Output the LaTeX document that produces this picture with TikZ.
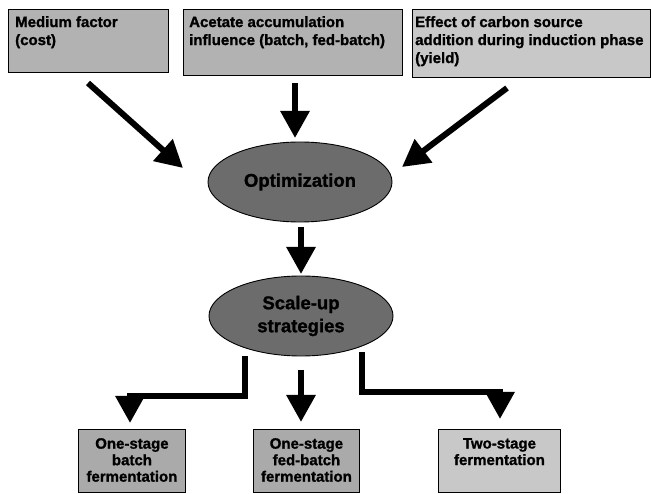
\documentclass[tikz,border=0pt]{standalone}
\usepackage{fontspec}
\setmainfont{Liberation Sans}[BoldFeatures={FakeBold=1.2}]
\usetikzlibrary{arrows.meta,shapes.geometric}
\definecolor{topgray}{HTML}{B2B2B2}
\definecolor{ellgray}{HTML}{6C6C6C}
\definecolor{botgray}{HTML}{AAAAAA}
\definecolor{lightgray}{HTML}{C8C8C8}
\begin{document}
\begin{tikzpicture}[x=1pt,y=-1pt,
  box/.style={draw=black, line width=0.9pt, inner sep=0pt, anchor=north west},
  toptext/.style={font=\bfseries\fontsize{15}{18}\selectfont, align=left, anchor=north west, inner sep=0pt},
  bottext/.style={font=\bfseries\fontsize{15}{16.5}\selectfont, align=center, anchor=north, inner sep=0pt},
  ell/.style={ellipse, draw=black, line width=0.9pt, fill=ellgray, minimum width=184pt, minimum height=80pt, inner sep=0pt, font=\bfseries\fontsize{18.5}{23}\selectfont, align=center},
  fat/.style={line width=6pt, -{Triangle[width=28pt,length=27pt]}},
  ]
\useasboundingbox (0,0) rectangle (651,494);
% top boxes
\node[box, fill=topgray, minimum width=160pt, minimum height=63pt] (m1) at (8,9) {};
\node[toptext] (m1t) at ([xshift=7pt,yshift=-7pt]m1.north west) {Medium factor\\(cost)};
\node[box, fill=topgray, minimum width=219pt, minimum height=66pt] (m2) at (183,9) {};
\node[toptext] (m2t) at ([xshift=6pt,yshift=-7pt]m2.north west) {Acetate accumulation\\influence (batch, fed-batch)};
\node[box, fill=lightgray, minimum width=238pt, minimum height=68pt] (m3) at (412,9) {};
\node[toptext] (m3t) at ([xshift=3pt,yshift=-7pt]m3.north west) {Effect of carbon source\\addition during induction phase\\(yield)};
% ellipses
\node[ell] (opt) at (300,182) {Optimization};
\node[ell] (scl) at (301,316) {Scale-up\\strategies};
% bottom boxes
\node[box, fill=botgray, minimum width=107pt, minimum height=63pt] (b1) at (78,429) {};
\node[bottext] (b1t) at ([yshift=-9pt]b1.north) {One-stage\\batch\\fermentation};
\node[box, fill=botgray, minimum width=106pt, minimum height=63pt] (b2) at (253,429) {};
\node[bottext] (b2t) at ([yshift=-9pt]b2.north) {One-stage\\fed-batch\\fermentation};
\node[box, fill=lightgray, minimum width=122pt, minimum height=63pt] (b3) at (438,429) {};
\node[bottext] (b3t) at ([yshift=-9pt]b3.north) {Two-stage\\fermentation};
% arrow ends
\coordinate (a1s) at (88,83);
\coordinate (a1e) at (183,168);
\coordinate (a2s) at (295,83);
\coordinate (a2e) at (295,138);
\coordinate (a3s) at (507,88);
\coordinate (a3e) at (402,167);
\coordinate (a4s) at (301,227);
\coordinate (a4e) at (301,274);
\coordinate (c1s) at (245,356);
\coordinate (c1e) at (130,423);
\coordinate (c2s) at (301,370);
\coordinate (c2e) at (301,422);
\coordinate (c3s) at (362,352);
\coordinate (c3e) at (500,419);
\draw[fat] (a1s) -- (a1e);
\draw[fat] (a2s) -- (a2e);
\draw[fat] (a3s) -- (a3e);
\draw[fat] (a4s) -- (a4e);
\draw[fat] (c1s) -- (c1s |- 0,396) -- (c1e |- 0,396) -- (c1e);
\draw[fat] (c2s) -- (c2e);
\draw[fat] (c3s) -- (c3s |- 0,392) -- (c3e |- 0,392) -- (c3e);
\end{tikzpicture}
\end{document}
